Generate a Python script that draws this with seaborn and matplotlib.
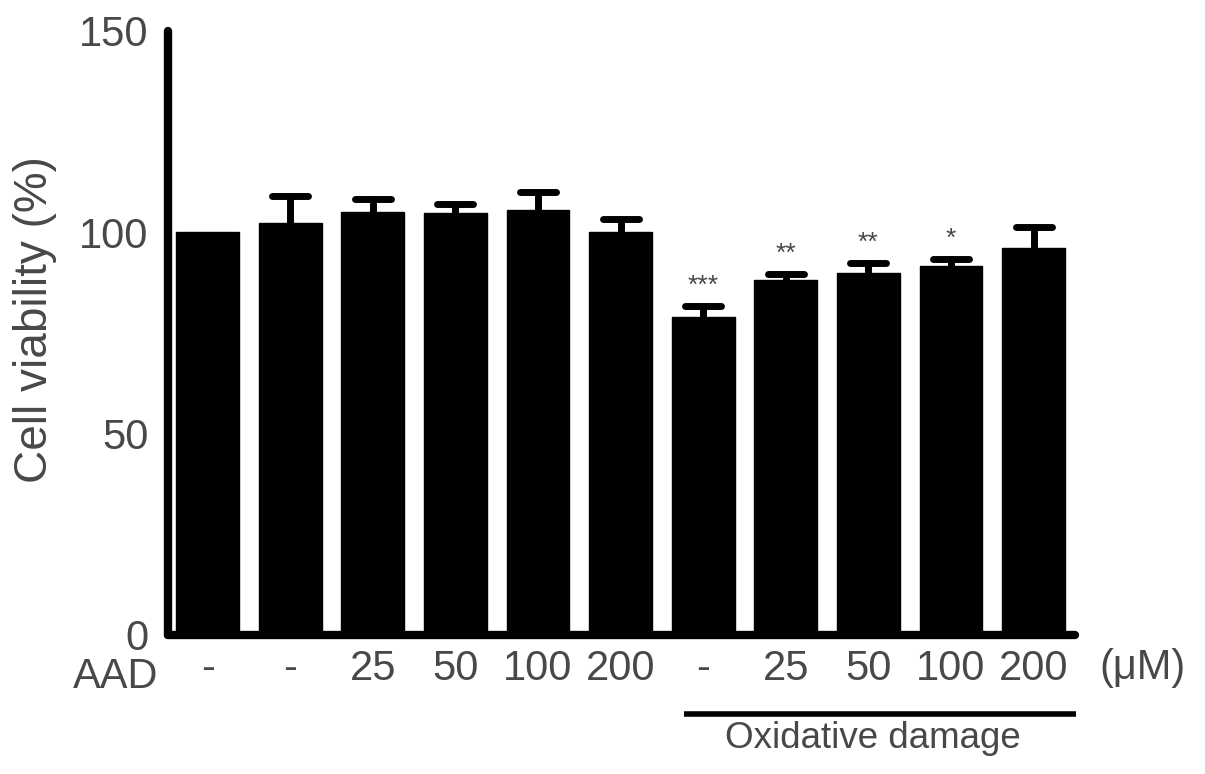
import pandas as pd
import numpy as np
import seaborn as sns
import matplotlib.pyplot as plt
from matplotlib.markers import MarkerStyle

# values
condition = ['ctrl', 'vehicle', 'aad25', 'aad50', 'aad100', 'aad200',
             'ox', 'ox_aad25', 'ox_aad50', 'ox_aad100', 'ox_aad200']
aad_dose = ['-', '-', '25', '50', '100', '200', '-', '25', '50', '100', '200']
viability = [100.0, 102.3, 105.0, 104.8, 105.5, 100.0, 78.9, 88.1, 90.0, 91.6, 96.0]
sem = [0.0, 6.7, 3.2, 2.3, 4.6, 3.2, 2.7, 1.5, 2.3, 1.7, 5.2]
signif = ['', '', '', '', '', '', '***', '**', '**', '*', '']

TXT = '#484848'

sns.set_style('white')
plt.rcParams['font.family'] = ['Liberation Sans', 'DejaVu Sans']

df = pd.DataFrame({'condition': condition, 'viability': viability, 'sem': sem})

fig = plt.figure(figsize=(12.05, 7.74), dpi=100)
ax = fig.add_axes([0.1394, 0.1796, 0.7526, 0.7804])

sns.barplot(data=df, x='condition', y='viability', order=condition,
            color='black', saturation=1, width=0.76, errorbar=None, ax=ax)
for p in ax.patches:
    p.set_edgecolor('black')

# upper-only error bars
pos = np.arange(len(condition))
has_err = df['sem'] > 0
eb = ax.errorbar(pos[has_err], df['viability'][has_err],
                 yerr=[np.zeros(has_err.sum()), df['sem'][has_err]],
                 fmt='none', ecolor='black', elinewidth=5, capsize=13, capthick=5,
                 zorder=3)
lower_caps, upper_caps = eb[1]
lower_caps.set_visible(False)
upper_caps.set_marker(MarkerStyle('_', capstyle='round'))
for col in eb[2]:
    col.set_capstyle('round')

# significance stars
for i, s in enumerate(signif):
    if s:
        ax.text(i, viability[i] + sem[i] + 3.3, s, ha='center', va='baseline',
                fontsize=19, color=TXT)

ax.set_ylim(0, 150)
ax.set_xlim(-0.48, 10.5)
ax.set_yticks([0, 50, 100, 150])
ax.set_xticks(pos)
ax.set_xticklabels(aad_dose)
ax.set_xlabel('')
ax.set_ylabel('Cell viability (%)', fontsize=33, color=TXT)
ax.yaxis.set_label_coords(-0.122, 0.523)

sns.despine(ax=ax)
for side in ['left', 'bottom']:
    ax.spines[side].set_linewidth(6)
    ax.spines[side].set_color('black')
    ax.spines[side].set_capstyle('round')
ax.tick_params(axis='both', length=6, width=2.5, color='black',
               labelsize=30, labelcolor=TXT)
ax.tick_params(axis='x', pad=4)
ax.tick_params(axis='y', pad=8)

fig.text(116 / 1205, 1 - 677 / 774, 'AAD', ha='center', va='center',
         fontsize=30, color=TXT)
fig.text(1143 / 1205, 1 - 668 / 774, '(\u03bcM)', ha='center', va='center',
         fontsize=30, color=TXT)

# group bracket under the oxidative-damage bars
tr = ax.get_xaxis_transform()
ax.plot([5.77, 10.51], [-0.131, -0.131], color='black', lw=4, transform=tr,
        clip_on=False, solid_capstyle='butt')
ax.text(8.06, -0.172, 'Oxidative damage', transform=tr, ha='center', va='center',
        fontsize=26.5, color=TXT)

fig.savefig('out.png', dpi=100)
